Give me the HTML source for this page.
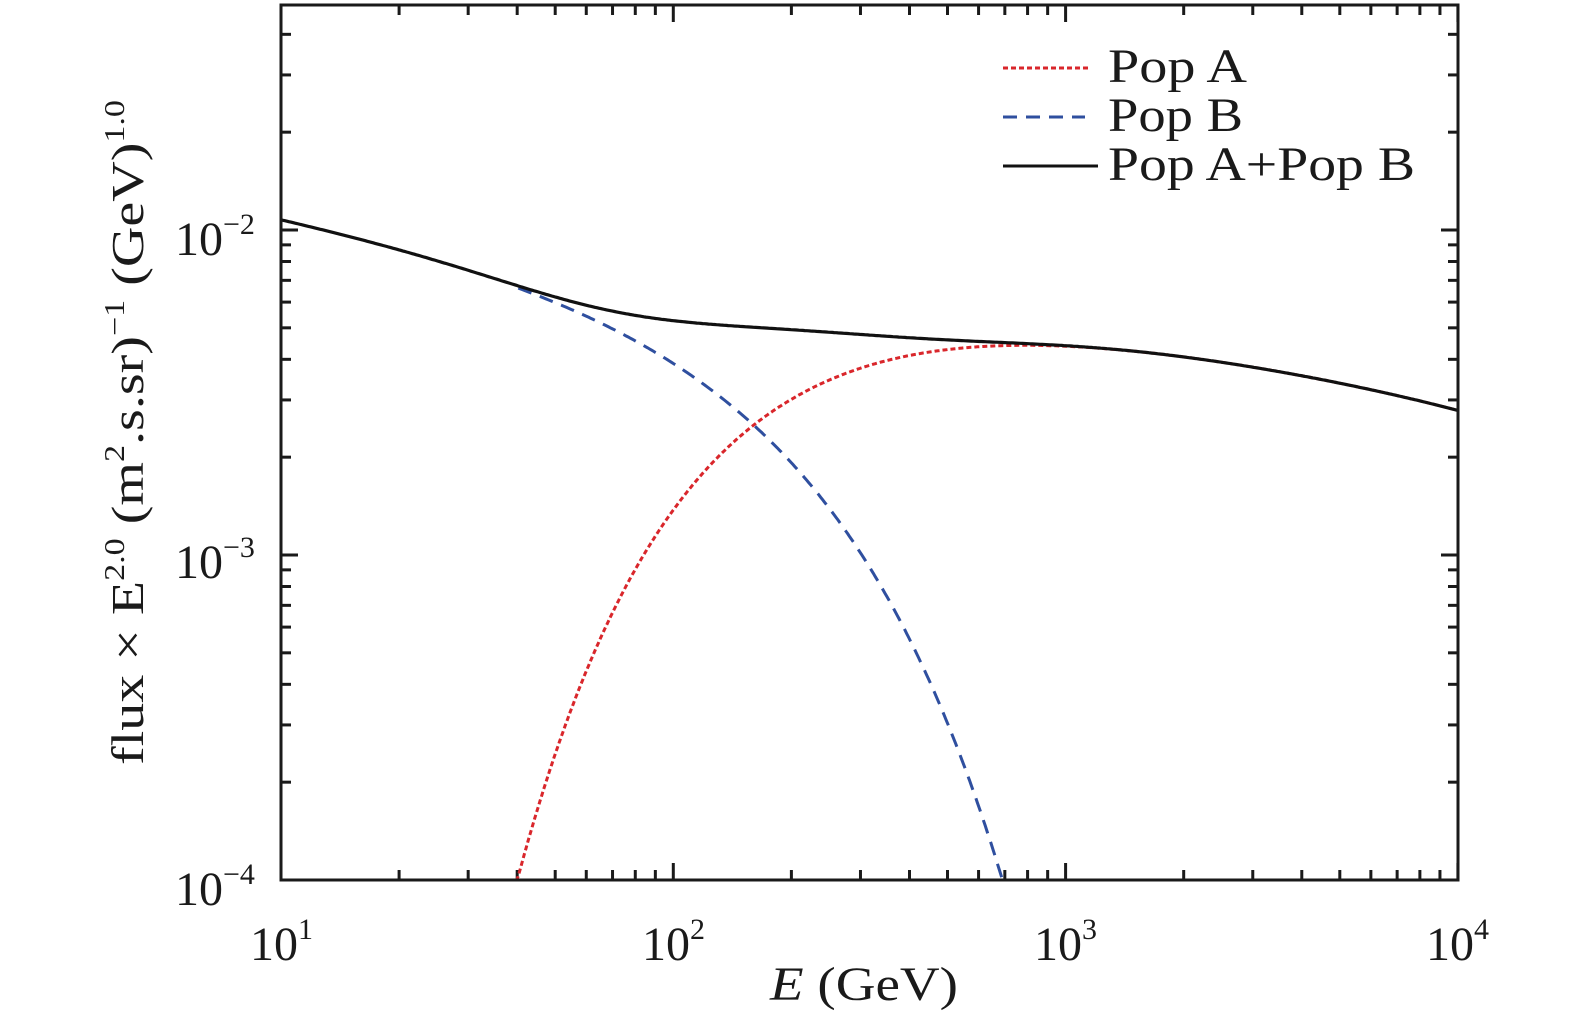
<!DOCTYPE html>
<html><head><meta charset="utf-8"><style>
html,body{margin:0;padding:0;background:#fff;}
svg{display:block;font-family:"Liberation Serif","Times New Roman",serif;}
</style></head><body>
<svg id="s" width="1575" height="1023" viewBox="0 0 1575 1023" xmlns="http://www.w3.org/2000/svg">
<g id="ticks" stroke="#1a1a1a" stroke-width="3"></g>
<path id="pa" fill="none" stroke="#d9262b" stroke-width="3" stroke-dasharray="5,3"/>
<path id="pb" fill="none" stroke="#2f4f9f" stroke-width="3" stroke-dasharray="14,9"/>
<path id="pt" fill="none" stroke="#111" stroke-width="3.2"/>
<rect x="281" y="5" width="1177" height="875" fill="none" stroke="#1a1a1a" stroke-width="3"/>
<g font-size="48" fill="#1a1a1a">
<text x="175" y="255">10<tspan dy="-21" font-size="30">−2</tspan></text>
<text x="175" y="578">10<tspan dy="-21" font-size="30">−3</tspan></text>
<text x="175" y="905">10<tspan dy="-21" font-size="30">−4</tspan></text>
<text x="250" y="960">10<tspan dy="-21" font-size="30">1</tspan></text>
<text x="642" y="960">10<tspan dy="-21" font-size="30">2</tspan></text>
<text x="1034" y="960">10<tspan dy="-21" font-size="30">3</tspan></text>
<text x="1426" y="960">10<tspan dy="-21" font-size="30">4</tspan></text>
<text x="770" y="1000" textLength="188" lengthAdjust="spacingAndGlyphs"><tspan font-style="italic">E</tspan> (GeV)</text>
<text transform="translate(143,765) rotate(-90)" font-size="46" textLength="665" lengthAdjust="spacingAndGlyphs">flux × E<tspan dy="-19" font-size="28">2.0</tspan><tspan dy="19"> (m</tspan><tspan dy="-19" font-size="28">2</tspan><tspan dy="19">.s.sr)</tspan><tspan dy="-19" font-size="28">−1</tspan><tspan dy="19"> (GeV)</tspan><tspan dy="-19" font-size="28">1.0</tspan></text>
<text x="1108" y="82" textLength="139" lengthAdjust="spacingAndGlyphs">Pop A</text>
<text x="1108" y="131" textLength="135" lengthAdjust="spacingAndGlyphs">Pop B</text>
<text x="1108" y="180" textLength="307" lengthAdjust="spacingAndGlyphs">Pop A+Pop B</text>
</g>
<line x1="1003" y1="68" x2="1088" y2="68" stroke="#d9262b" stroke-width="3" stroke-dasharray="5,3"/>
<line x1="1003" y1="117" x2="1085" y2="117" stroke="#2f4f9f" stroke-width="3" stroke-dasharray="14,9"/>
<line x1="1003" y1="166" x2="1098" y2="166" stroke="#111" stroke-width="3"/>
</svg>
<script>
var X0=281,XD=392.3,Y0=880,YD=325;
function X(e){return X0+XD*(Math.log10(e)-1);}
function Y(l){return Y0-YD*(l+4);}
function lB(E){return -1.716-0.229*Math.log10(E)-0.002367*E;}
function lA(E){return -1.578-0.231*Math.log10(E)-82.1/E-4.5e-6*E;}
var pa="",pb="",pt="";
for(var i=0;i<=600;i++){var E=Math.pow(10,1+3*i/600);
 var a=lA(E),b=lB(E),t=Math.log10(Math.pow(10,a)+Math.pow(10,b));
 if(a>-4.02){pa+=(pa?"L":"M")+X(E).toFixed(1)+","+Math.min(Y(a),881).toFixed(1);}
 if(E>=40&&b>-4.02){pb+=(pb?"L":"M")+X(E).toFixed(1)+","+Math.min(Y(b),881).toFixed(1);}
 pt+=(pt?"L":"M")+X(E).toFixed(1)+","+Y(t).toFixed(1);}
document.getElementById("pa").setAttribute("d",pa);
document.getElementById("pb").setAttribute("d",pb);
document.getElementById("pt").setAttribute("d",pt);
var g="";
for(var d=1;d<=4;d++)for(var m=1;m<10;m++){if(d==4&&m>1)break;var x=X(m*Math.pow(10,d));var L=m==1?17:10;
 g+='<line x1="'+x+'" y1="880" x2="'+x+'" y2="'+(880-L)+'"/><line x1="'+x+'" y1="5" x2="'+x+'" y2="'+(5+L)+'"/>';}
for(var d=-4;d<=-2;d++)for(var m=1;m<10;m++){var y=Y(d+Math.log10(m));if(y<6)break;var L=m==1?17:10;
 g+='<line x1="281" y1="'+y+'" x2="'+(281+L)+'" y2="'+y+'"/><line x1="1458" y1="'+y+'" x2="'+(1458-L)+'" y2="'+y+'"/>';}
document.getElementById("ticks").innerHTML=g;
</script>
</body></html>
